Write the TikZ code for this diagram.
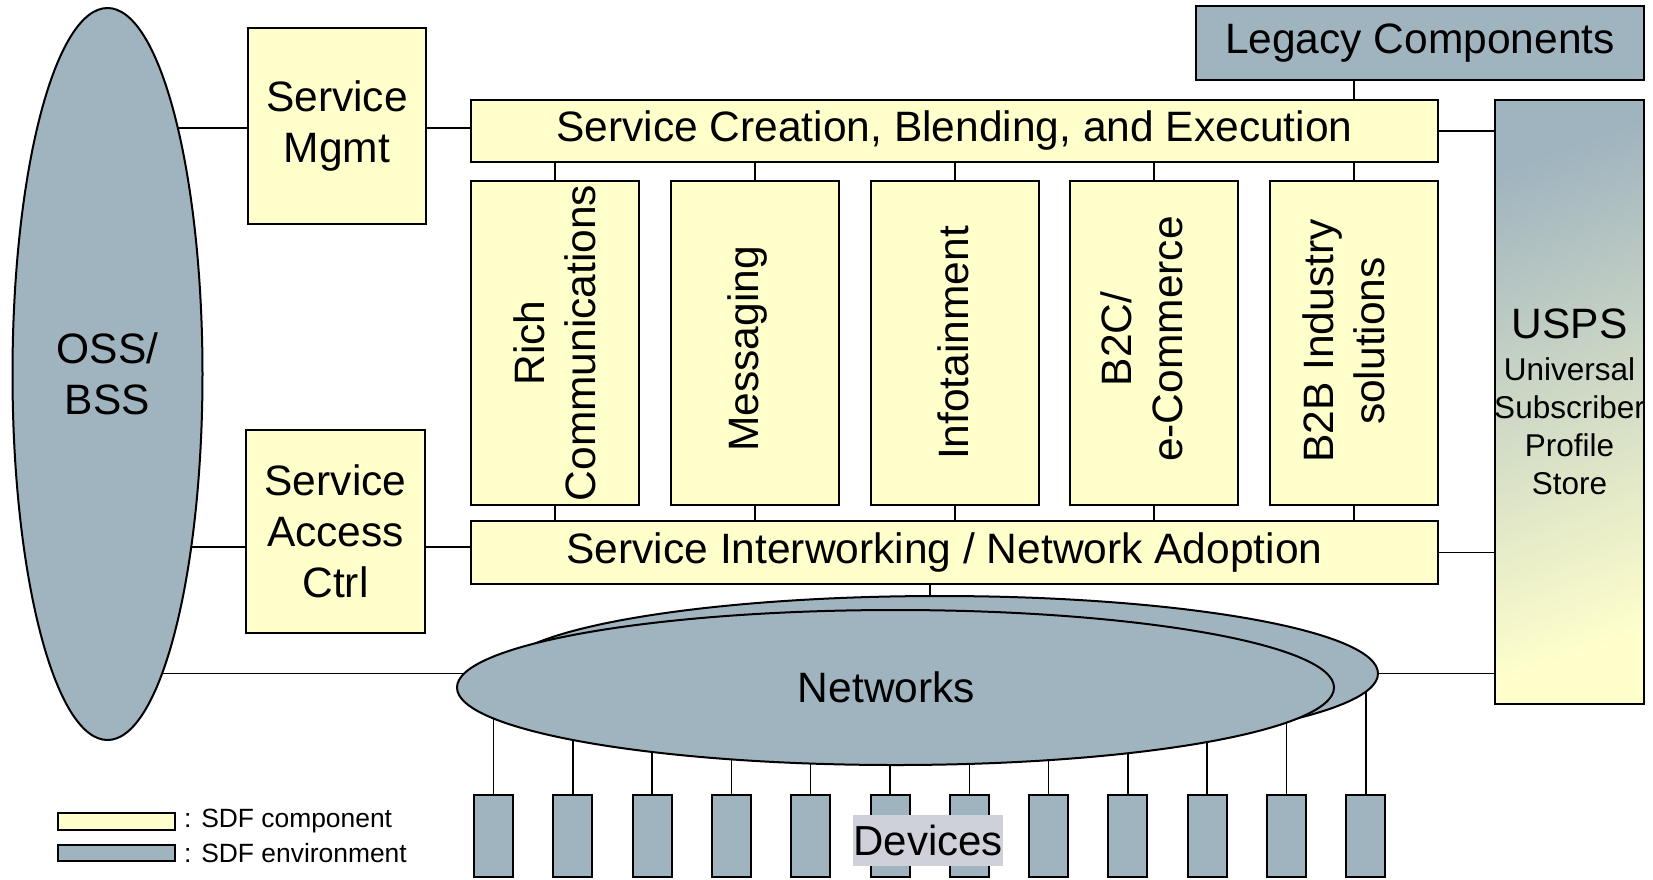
\documentclass[tikz,border=0pt]{standalone}
\usepackage{fontspec}
\setmainfont{Liberation Sans}
\usetikzlibrary{shapes.geometric}
\pgfdeclarelayer{bg}
\pgfsetlayers{bg,main}
\definecolor{compc}{RGB}{255,255,204}
\definecolor{envc}{RGB}{160,180,191}
\definecolor{devlab}{RGB}{206,209,217}
\begin{document}
\begin{tikzpicture}[x=0.5pt,y=-0.5pt,
  box/.style={draw=black, line width=1pt, inner sep=0pt, align=center, font=\fontsize{21.25}{25.5}\selectfont},
  comp/.style={box, fill=compc},
  env/.style={box, fill=envc},
  colbox/.style={comp, minimum width=84pt, minimum height=162pt},
  devbox/.style={env, minimum width=19.5pt, minimum height=41pt},
  netshape/.style={env, ellipse, minimum width=438.5pt, minimum height=77.5pt},
  vtext/.style={rotate=90, align=center, inner sep=0pt, font=\fontsize{21.25}{25.5}\selectfont},
  plaintext/.style={inner sep=0pt, align=center, font=\fontsize{21.25}{25.5}\selectfont},
  link/.style={draw=black, line width=0.75pt},
  legtext/.style={anchor=west, inner sep=0pt, font=\fontsize{13.2}{15}\selectfont},
]
\useasboundingbox (0,0) rectangle (1653,879);

% OSS/BSS
\node[env, ellipse, minimum width=95pt, minimum height=366pt] (oss) at (107.5,374) {OSS/\\BSS};

% management boxes
\node[comp, minimum width=89pt, minimum height=98pt] (sm) at (337,126) {Service\\Mgmt};
\node[comp, minimum width=89.5pt, minimum height=101.5pt] (sac) at (335.5,531.5) {Service\\Access\\Ctrl};

% layers
\node[comp, minimum width=483.5pt, minimum height=31pt] (scbe) at (954.5,131) {Service Creation, Blending, and Execution};
\node[comp, minimum width=483.5pt, minimum height=31.5pt] (sina) at (954.5,552.5) {};
\node[plaintext] (sinatext) at ([xshift=-5pt]sina.center) {Service Interworking / Network Adoption};

% legacy
\node[env, minimum width=224pt, minimum height=37pt] (legacy) at (1420,43) {Legacy Components};

% USPS
\node[box, shading=axis, top color=envc, bottom color=compc, middle color=envc!50!compc, shading angle=20,
      minimum width=74.5pt, minimum height=302pt] (usps) at (1569.5,402) {};
\node[align=center, inner sep=0pt, font=\fontsize{15.75}{19}\selectfont] (uspstext) at (usps.center)
  {{\fontsize{21.25}{25.5}\selectfont USPS}\\[2pt]Universal\\Subscriber\\Profile\\Store};

% service columns
\node[colbox] (c1) at (555,343) {};
\node[colbox] (c2) at (755,343) {};
\node[colbox] (c3) at (955,343) {};
\node[colbox] (c4) at (1154,343) {};
\node[colbox] (c5) at (1354,343) {};
\node[vtext] at (c1.center) {Rich\\Communications};
\node[vtext] at ([xshift=-3.5pt,yshift=-3pt]c2.center) {Messaging};
\node[vtext] at ([xshift=-1pt]c3.center) {Infotainment};
\node[vtext] at ([xshift=-6pt,yshift=2pt]c4.center) {B2C/\\e-Commerce};
\node[vtext] at ([xshift=-5pt,yshift=1pt]c5.center) {B2B Industry\\solutions};

% networks
\node[netshape] (netb) at (939.5,673.5) {};
\node[netshape] (netf) at (895.5,687.5) {};
\node[plaintext] (nettext) at ([xshift=-4.5pt]netf.center) {Networks};

% devices
\foreach \i in {0,...,11} {
  \node[devbox] (d\i) at ({493.5+79.3*\i},836) {};
}
\node[fill=devlab, inner sep=0pt, minimum width=74.5pt, minimum height=25.5pt,
      font=\fontsize{21}{25.5}\selectfont] (devlabel) at (928,840) {Devices};

% legend
\node[comp, line width=0.8pt, minimum width=58.5pt, minimum height=8.5pt] (lg1) at (116.5,821.5) {};
\node[env, line width=0.8pt, minimum width=58.5pt, minimum height=8pt] (lg2) at (116.5,853) {};
\node[legtext] (lgt1) at ([xshift=4pt]lg1.east) {: SDF component};
\node[legtext] (lgt2) at ([xshift=4pt]lg2.east) {: SDF environment};

% connectors
\coordinate (mgmtline) at (0,128);
\coordinate (accline) at (0,547);
\begin{pgfonlayer}{bg}
  \draw[link] (oss.center |- mgmtline) -- (sm.west |- mgmtline);
  \draw[link] (sm.east |- mgmtline) -- (scbe.west |- mgmtline);
  \draw[link] (oss.center |- accline) -- (sina.west |- accline);
  \draw[link] (oss.center |- netb.center) -- (netb.center) -- (usps.west |- netb.center);
  \draw[link] (scbe.east) -- (scbe.east -| usps.west);
  \draw[link] (sina.east) -- (sina.east -| usps.west);
  \draw[link] (c5.north |- legacy.south) -- (c5.north |- scbe.south);
  \foreach \c in {c1,c2,c3,c4,c5} {
    \draw[link] (\c.north) -- (\c.north |- scbe.south);
    \draw[link] (\c.south) -- (\c.south |- sina.north);
  }
  \draw[link] (sina.south -| 930,0) -- (netb.center -| 930,0);
  \foreach \i in {0,...,11} {
    \draw[link] (d\i.north) -- (d\i.north |- netb.center);
  }
\end{pgfonlayer}
\end{tikzpicture}
\end{document}
